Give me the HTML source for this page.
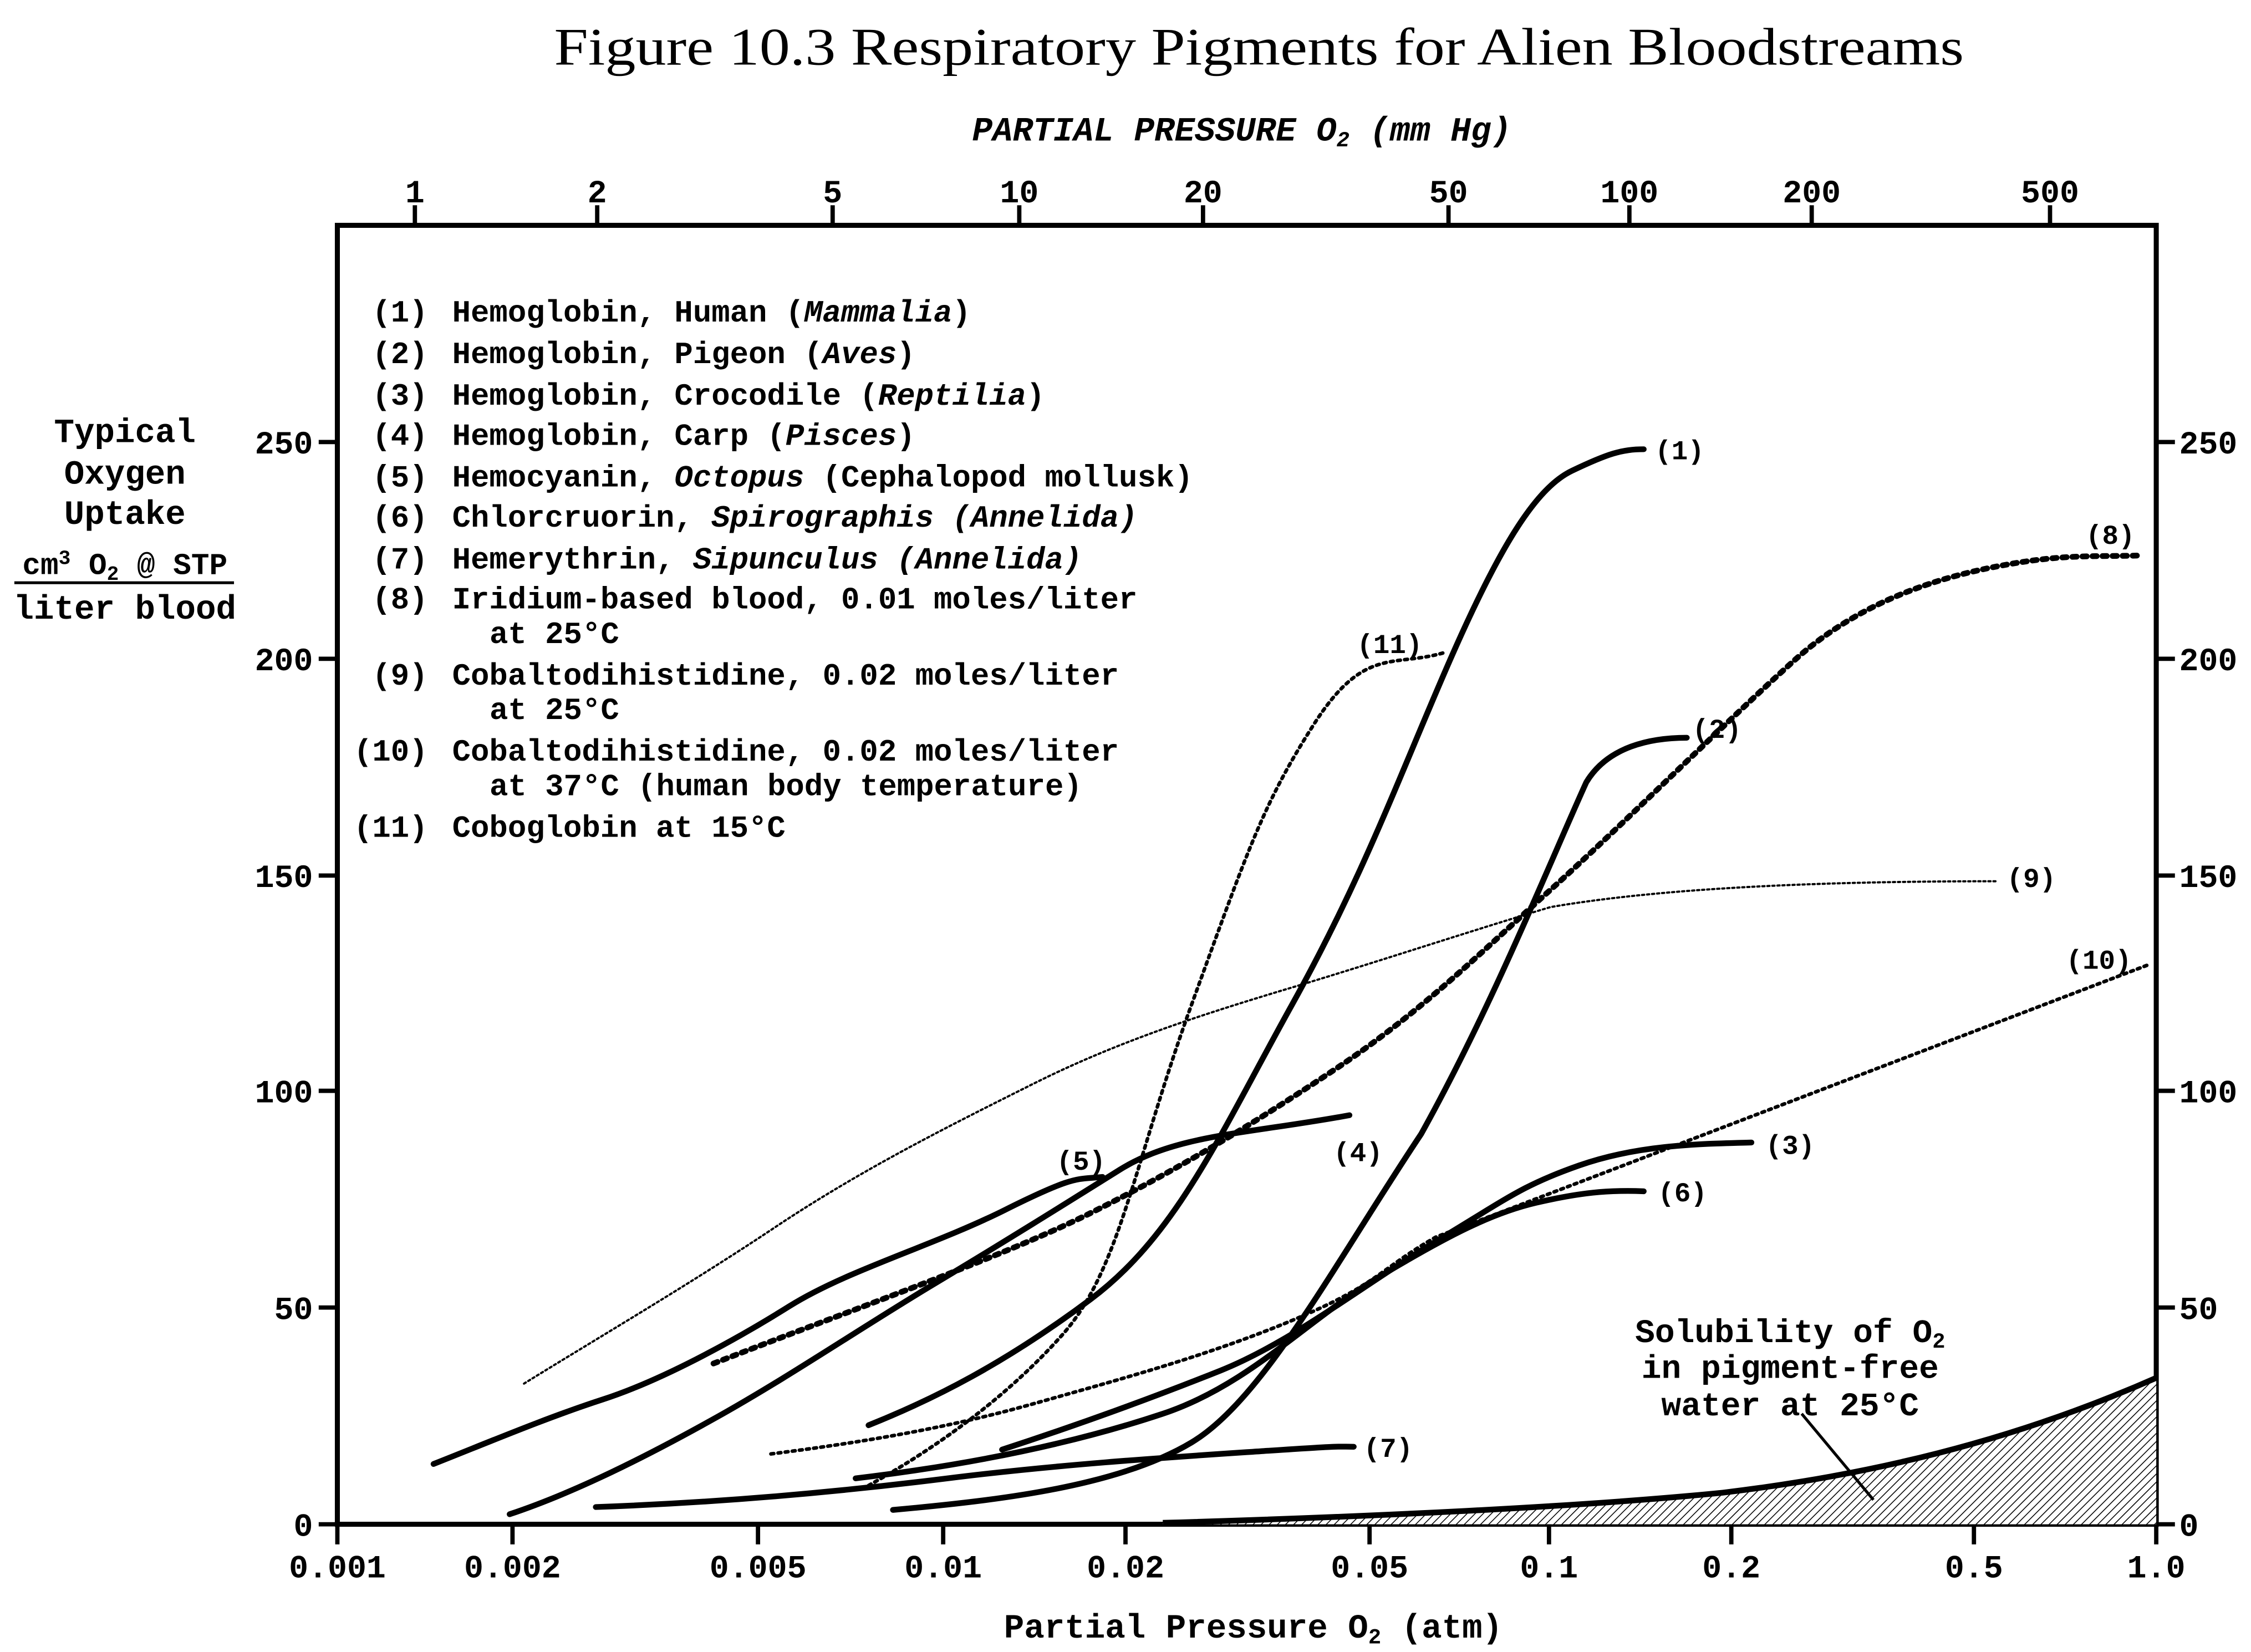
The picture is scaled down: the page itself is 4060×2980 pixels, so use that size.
<!DOCTYPE html>
<html><head><meta charset="utf-8"><style>html,body{margin:0;padding:0;background:#fff}svg{display:block}</style></head>
<body>
<svg xmlns="http://www.w3.org/2000/svg" width="4060" height="2980" viewBox="0 0 1568 1151" preserveAspectRatio="none">
<defs>
<pattern id="h" width="4" height="4" patternUnits="userSpaceOnUse" patternTransform="rotate(45)">
<rect width="4" height="4" fill="#fff"/><line x1="0" y1="0" x2="0" y2="4" stroke="#000" stroke-width="1.2"/></pattern>
</defs>
<rect width="1568" height="1151" fill="#fff"/>
<text x="877" y="45" font-family="Liberation Serif, serif" font-size="37" text-anchor="middle" textLength="982" lengthAdjust="spacingAndGlyphs">Figure 10.3 Respiratory Pigments for Alien Bloodstreams</text>
<g font-family="Liberation Mono, monospace" font-weight="bold" fill="#000">
<text x="865" y="98" font-size="23.5" font-style="italic" text-anchor="middle">PARTIAL PRESSURE O<tspan font-size="15" dy="4">2</tspan><tspan dy="-4"> (mm Hg)</tspan></text>
<text x="873" y="1141" font-size="23.5" text-anchor="middle">Partial Pressure O<tspan font-size="15" dy="4">2</tspan><tspan dy="-4"> (atm)</tspan></text>
<g font-size="23.5" text-anchor="middle">
<text x="87" y="308">Typical</text><text x="87" y="337">Oxygen</text><text x="87" y="365">Uptake</text>
<text x="87" y="400" font-size="21">cm<tspan font-size="14" dy="-7">3</tspan><tspan dy="7"> O</tspan><tspan font-size="14" dy="4">2</tspan><tspan dy="-4"> @ STP</tspan></text>
<text x="87" y="431">liter blood</text>
</g>
<line x1="10" y1="406" x2="163" y2="406" stroke="#000" stroke-width="2"/>
</g>
<rect x="235" y="157" width="1267" height="905" fill="none" stroke="#000" stroke-width="3.5"/>
<path d="M810,1061 C950,1057 1100,1050 1200,1040 C1300,1028 1400,1005 1502,960 L1502,1062 L810,1062 Z" fill="url(#h)" stroke="none"/>
<path d="M810,1061 C950,1057 1100,1050 1200,1040 C1300,1028 1400,1005 1502,960" fill="none" stroke="#000" stroke-width="4"/>
<line x1="1255" y1="985" x2="1305" y2="1045" stroke="#000" stroke-width="2"/>
<g font-family="Liberation Mono, monospace" font-weight="bold" font-size="23" text-anchor="middle">
<text x="1247" y="935">Solubility of O<tspan font-size="15" dy="4">2</tspan></text>
<text x="1247" y="960">in pigment-free</text>
<text x="1247" y="986">water at 25°C</text>
</g>
<g stroke="#000" stroke-width="3">
<line x1="235" y1="1062" x2="235" y2="1076"/><line x1="357" y1="1062" x2="357" y2="1076"/><line x1="528" y1="1062" x2="528" y2="1076"/>
<line x1="657" y1="1062" x2="657" y2="1076"/><line x1="784" y1="1062" x2="784" y2="1076"/><line x1="954" y1="1062" x2="954" y2="1076"/>
<line x1="1079" y1="1062" x2="1079" y2="1076"/><line x1="1206" y1="1062" x2="1206" y2="1076"/><line x1="1375" y1="1062" x2="1375" y2="1076"/><line x1="1502" y1="1062" x2="1502" y2="1076"/>
<line x1="289" y1="157" x2="289" y2="143"/><line x1="416" y1="157" x2="416" y2="143"/><line x1="580" y1="157" x2="580" y2="143"/>
<line x1="710" y1="157" x2="710" y2="143"/><line x1="838" y1="157" x2="838" y2="143"/><line x1="1009" y1="157" x2="1009" y2="143"/>
<line x1="1135" y1="157" x2="1135" y2="143"/><line x1="1262" y1="157" x2="1262" y2="143"/><line x1="1428" y1="157" x2="1428" y2="143"/>
<line x1="222" y1="1062" x2="235" y2="1062"/><line x1="222" y1="911" x2="235" y2="911"/><line x1="222" y1="760" x2="235" y2="760"/><line x1="222" y1="610" x2="235" y2="610"/><line x1="222" y1="459" x2="235" y2="459"/><line x1="222" y1="308" x2="235" y2="308"/>
<line x1="1502" y1="1062" x2="1515" y2="1062"/><line x1="1502" y1="911" x2="1515" y2="911"/><line x1="1502" y1="760" x2="1515" y2="760"/><line x1="1502" y1="610" x2="1515" y2="610"/><line x1="1502" y1="459" x2="1515" y2="459"/><line x1="1502" y1="308" x2="1515" y2="308"/>
</g>
<g font-family="Liberation Mono, monospace" font-weight="bold" font-size="22.5">
<g text-anchor="middle">
<text x="235" y="1099">0.001</text><text x="357" y="1099">0.002</text><text x="528" y="1099">0.005</text><text x="657" y="1099">0.01</text><text x="784" y="1099">0.02</text><text x="954" y="1099">0.05</text><text x="1079" y="1099">0.1</text><text x="1206" y="1099">0.2</text><text x="1375" y="1099">0.5</text><text x="1502" y="1099">1.0</text>
<text x="289" y="141">1</text><text x="416" y="141">2</text><text x="580" y="141">5</text><text x="710" y="141">10</text><text x="838" y="141">20</text><text x="1009" y="141">50</text><text x="1135" y="141">100</text><text x="1262" y="141">200</text><text x="1428" y="141">500</text>
</g>
<g text-anchor="end">
<text x="218" y="1070">0</text><text x="218" y="919">50</text><text x="218" y="768">100</text><text x="218" y="618">150</text><text x="218" y="467">200</text><text x="218" y="316">250</text>
</g>
<text x="1518" y="1070">0</text><text x="1518" y="919">50</text><text x="1518" y="768">100</text><text x="1518" y="618">150</text><text x="1518" y="467">200</text><text x="1518" y="316">250</text>
</g>
<g font-family="Liberation Mono, monospace" font-weight="bold" font-size="21.5">
<g text-anchor="end">
<text x="298" y="224">(1)</text><text x="298" y="253">(2)</text><text x="298" y="282">(3)</text><text x="298" y="310">(4)</text><text x="298" y="339">(5)</text><text x="298" y="367">(6)</text><text x="298" y="396">(7)</text><text x="298" y="424">(8)</text><text x="298" y="477">(9)</text><text x="298" y="530">(10)</text><text x="298" y="583">(11)</text>
</g>
<text x="315" y="224">Hemoglobin, Human (<tspan font-style="italic">Mammalia</tspan>)</text>
<text x="315" y="253">Hemoglobin, Pigeon (<tspan font-style="italic">Aves</tspan>)</text>
<text x="315" y="282">Hemoglobin, Crocodile (<tspan font-style="italic">Reptilia</tspan>)</text>
<text x="315" y="310">Hemoglobin, Carp (<tspan font-style="italic">Pisces</tspan>)</text>
<text x="315" y="339">Hemocyanin, <tspan font-style="italic">Octopus</tspan> (Cephalopod mollusk)</text>
<text x="315" y="367">Chlorcruorin, <tspan font-style="italic">Spirographis (Annelida)</tspan></text>
<text x="315" y="396">Hemerythrin, <tspan font-style="italic">Sipunculus (Annelida)</tspan></text>
<text x="315" y="424">Iridium-based blood, 0.01 moles/liter</text>
<text x="341" y="448">at 25°C</text>
<text x="315" y="477">Cobaltodihistidine, 0.02 moles/liter</text>
<text x="341" y="501">at 25°C</text>
<text x="315" y="530">Cobaltodihistidine, 0.02 moles/liter</text>
<text x="341" y="554">at 37°C (human body temperature)</text>
<text x="315" y="583">Coboglobin at 15°C</text>
</g>
<g fill="none" stroke="#000" stroke-linecap="round" stroke-linejoin="round">
<path stroke-width="1.5" stroke-dasharray="1.5 2" d="M365,964 C420,930 480,895 540,855 S660,785 720,755 S840,706 900,688 S1020,650 1080,632 C1150,620 1250,614 1390,614"/>
<path stroke-width="2.5" stroke-dasharray="2 3" d="M537,1013 C600,1005 660,995 720,978 S840,945 900,920 S960,885 1000,862 L1497,672"/>
<path stroke-width="2.5" stroke-dasharray="2 3" d="M605,1035 C650,1010 700,975 740,930 S790,810 830,700 S880,560 915,505 S970,465 1005,455"/>
<path stroke-width="4" stroke-dasharray="3 4" d="M497,950 C600,910 700,875 760,845 S870,785 930,745 S1030,665 1080,620 S1200,505 1250,460 S1360,400 1400,393 S1460,388 1492,387"/>
<path stroke-width="4" d="M605,993 C650,975 700,950 760,905 S850,790 900,700 S975,540 1010,460 S1070,340 1095,328 S1130,313 1145,313"/>
<path stroke-width="4" d="M622,1052 C700,1045 780,1035 830,1005 S930,880 990,790 C1040,700 1080,600 1105,545 C1120,520 1150,514 1175,514"/>
<path stroke-width="4" d="M698,1010 C750,993 800,975 850,955 S950,895 1000,865 S1060,826 1100,812 S1180,797 1220,796"/>
<path stroke-width="4" d="M596,1030 C680,1020 750,1005 810,985 S910,920 960,890 S1040,845 1070,838 S1120,829 1145,830"/>
<path stroke-width="4" d="M355,1055 C400,1040 450,1015 500,987 S600,925 650,895 S740,840 780,815 S870,790 940,777"/>
<path stroke-width="4" d="M302,1020 C340,1005 380,988 420,975 S510,935 550,910 S650,868 700,843 S750,822 768,820"/>
<path stroke-width="4" d="M415,1050 C500,1047 580,1040 660,1030 S820,1015 880,1011 S930,1008 943,1008"/>
</g>
<g font-family="Liberation Mono, monospace" font-weight="bold" font-size="19" text-anchor="middle">
<text x="1170" y="320">(1)</text><text x="1196" y="514">(2)</text><text x="1247" y="804">(3)</text><text x="946" y="809">(4)</text><text x="753" y="815">(5)</text><text x="1172" y="837">(6)</text><text x="967" y="1015">(7)</text><text x="1470" y="379">(8)</text><text x="1415" y="618">(9)</text><text x="1462" y="675">(10)</text><text x="968" y="455">(11)</text>
</g>
</svg>
</body></html>
